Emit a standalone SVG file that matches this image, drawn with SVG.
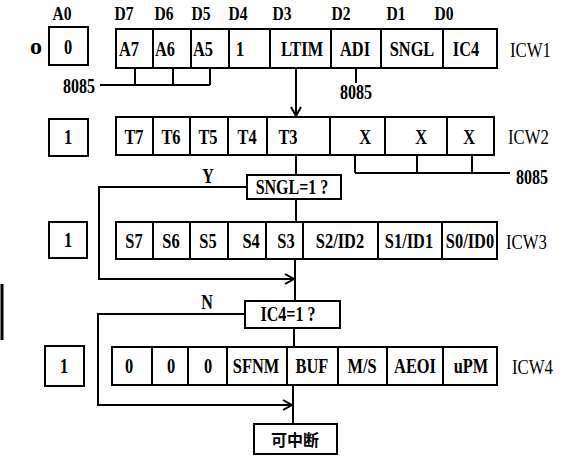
<svg xmlns="http://www.w3.org/2000/svg" width="571" height="457" viewBox="0 0 571 457">
<style>
text { font-family: "Liberation Serif", "Times New Roman", serif; font-weight: bold; fill: #000; }
.t { font-size: 21px; text-anchor: middle; transform: scaleX(0.78); transform-box: fill-box; transform-origin: center; }
.tl { font-size: 21px; text-anchor: start; font-weight: normal; transform: scaleX(0.8); transform-box: fill-box; transform-origin: left center; }
.n { font-size: 20px; text-anchor: middle; transform: scaleX(0.8); transform-box: fill-box; transform-origin: center; }
.nl { font-size: 20px; text-anchor: start; transform: scaleX(0.8); transform-box: fill-box; transform-origin: left center; }
.h { font-size: 19px; text-anchor: middle; transform: scaleX(0.82); transform-box: fill-box; transform-origin: center; }
.o { font-size: 24px; text-anchor: middle; }
.cjk { font-family: "Noto Sans CJK SC", sans-serif; font-size: 16px; font-weight: bold; text-anchor: middle; }
rect { fill: #fff; stroke: #000; stroke-width: 2; }
.c line, .c polyline { stroke: #000; stroke-width: 2; fill: none; }
</style>
<defs>
<marker id="arr" markerWidth="12" markerHeight="12" refX="10" refY="6" orient="auto" markerUnits="userSpaceOnUse">
<path d="M1,1 L10,6 L1,11" fill="none" stroke="#000" stroke-width="2"/>
</marker>
</defs>
<rect x="0" y="0" width="571" height="457" style="fill:#fff;stroke:none"/>

<g id="headers">
<text class="h" x="62" y="20">A0</text>
<text class="h" x="124" y="20">D7</text>
<text class="h" x="164" y="20">D6</text>
<text class="h" x="201" y="20">D5</text>
<text class="h" x="238" y="20">D4</text>
<text class="h" x="282" y="20">D3</text>
<text class="h" x="341" y="20">D2</text>
<text class="h" x="396" y="20">D1</text>
<text class="h" x="444" y="20">D0</text>
<text class="o" x="36" y="54">o</text>
</g>

<g class="c" id="connectors">
<line x1="2" y1="284" x2="2" y2="340" style="stroke-width:3"/>
<line x1="135" y1="68" x2="135" y2="85"/>
<line x1="173" y1="68" x2="173" y2="85"/>
<line x1="210" y1="68" x2="210" y2="85"/>
<line x1="100" y1="85" x2="210" y2="85"/>
<line x1="356" y1="69" x2="356" y2="83"/>
<line x1="296" y1="68" x2="296" y2="116" marker-end="url(#arr)"/>
<line x1="355" y1="155" x2="355" y2="173"/>
<line x1="417" y1="155" x2="417" y2="173"/>
<line x1="472" y1="155" x2="472" y2="173"/>
<line x1="355" y1="173" x2="510" y2="173"/>
<line x1="296" y1="155" x2="296" y2="175"/>
<polyline points="247,187 99,187 99,279 294,279" marker-end="url(#arr)"/>
<line x1="296" y1="199" x2="296" y2="222"/>
<line x1="295" y1="259" x2="295" y2="301"/>
<polyline points="245,314 98,314 98,405 292,405" marker-end="url(#arr)"/>
<line x1="294" y1="328" x2="294" y2="347"/>
<line x1="293" y1="385" x2="293" y2="424"/>
<text class="n" x="79" y="93">8085</text>
<text class="n" x="356" y="99">8085</text>
<text class="nl" x="516" y="184">8085</text>
<text class="n" x="208" y="183">Y</text>
<text class="n" x="207" y="309">N</text>
</g>

<g id="icw1">
<rect x="49" y="27" width="39" height="38"/>
<text class="t" x="68" y="54">0</text>
<rect x="116" y="29" width="37" height="39"/>
<rect x="153" y="29" width="38" height="39"/>
<rect x="191" y="29" width="38" height="39"/>
<rect x="229" y="29" width="41" height="39"/>
<rect x="270" y="29" width="61" height="39"/>
<rect x="331" y="29" width="50" height="39"/>
<rect x="381" y="29" width="62" height="39"/>
<rect x="443" y="29" width="54" height="39"/>
<text class="t" x="129" y="56">A7</text>
<text class="t" x="165" y="56">A6</text>
<text class="t" x="203" y="56">A5</text>
<text class="t" x="240" y="56">1</text>
<text class="t" x="302" y="56">LTIM</text>
<text class="t" x="355" y="56">ADI</text>
<text class="t" x="412" y="56">SNGL</text>
<text class="t" x="466" y="56">IC4</text>
<text class="tl" x="510" y="57">ICW1</text>
</g>

<g id="icw2">
<rect x="49" y="119" width="39" height="37"/>
<text class="t" x="68" y="144">1</text>
<rect x="116" y="117" width="37" height="38"/>
<rect x="153" y="117" width="37" height="38"/>
<rect x="190" y="117" width="38" height="38"/>
<rect x="228" y="117" width="39" height="38"/>
<rect x="267" y="117" width="63" height="38"/>
<rect x="330" y="117" width="55" height="38"/>
<rect x="385" y="117" width="62" height="38"/>
<rect x="447" y="117" width="47" height="38"/>
<text class="t" x="134" y="144">T7</text>
<text class="t" x="171" y="144">T6</text>
<text class="t" x="208" y="144">T5</text>
<text class="t" x="247" y="144">T4</text>
<text class="t" x="288" y="144">T3</text>
<text class="t" x="365" y="144">X</text>
<text class="t" x="421" y="144">X</text>
<text class="t" x="469" y="144">X</text>
<text class="tl" x="508" y="144">ICW2</text>
</g>

<g id="sngl">
<rect x="247" y="175" width="94" height="24"/>
<text class="n" x="292" y="194">SNGL=1 ?</text>
</g>

<g id="icw3">
<rect x="49" y="222" width="38" height="36"/>
<text class="t" x="68" y="247">1</text>
<rect x="116" y="222" width="37" height="37"/>
<rect x="153" y="222" width="37" height="37"/>
<rect x="190" y="222" width="38" height="37"/>
<rect x="228" y="222" width="38" height="37"/>
<rect x="266" y="222" width="37" height="37"/>
<rect x="303" y="222" width="75" height="37"/>
<rect x="378" y="222" width="64" height="37"/>
<rect x="442" y="222" width="55" height="37"/>
<text class="t" x="134" y="248">S7</text>
<text class="t" x="171" y="248">S6</text>
<text class="t" x="208" y="248">S5</text>
<text class="t" x="251" y="248">S4</text>
<text class="t" x="286" y="248">S3</text>
<text class="t" x="340" y="248">S2/ID2</text>
<text class="t" x="409" y="248">S1/ID1</text>
<text class="t" x="470" y="248">S0/ID0</text>
<text class="tl" x="506" y="249">ICW3</text>
</g>

<g id="ic4">
<rect x="245" y="301" width="95" height="27"/>
<text class="n" x="288" y="321">IC4=1 ?</text>
</g>

<g id="icw4">
<rect x="45" y="346" width="39" height="40"/>
<text class="t" x="64" y="373">1</text>
<rect x="112" y="347" width="40" height="38"/>
<rect x="152" y="347" width="36" height="38"/>
<rect x="188" y="347" width="39" height="38"/>
<rect x="227" y="347" width="60" height="38"/>
<rect x="287" y="347" width="51" height="38"/>
<rect x="338" y="347" width="49" height="38"/>
<rect x="387" y="347" width="56" height="38"/>
<rect x="443" y="347" width="54" height="38"/>
<text class="t" x="129" y="373">0</text>
<text class="t" x="171" y="373">0</text>
<text class="t" x="208" y="373">0</text>
<text class="t" x="256" y="373">SFNM</text>
<text class="t" x="312" y="373">BUF</text>
<text class="t" x="362" y="373">M/S</text>
<text class="t" x="415" y="373">AEOI</text>
<text class="t" x="471" y="373">uPM</text>
<text class="tl" x="512" y="374">ICW4</text>
</g>

<g id="end">
<rect x="254" y="424" width="83" height="30"/>
<text class="cjk" x="295" y="446">可中断</text>
</g>
</svg>
